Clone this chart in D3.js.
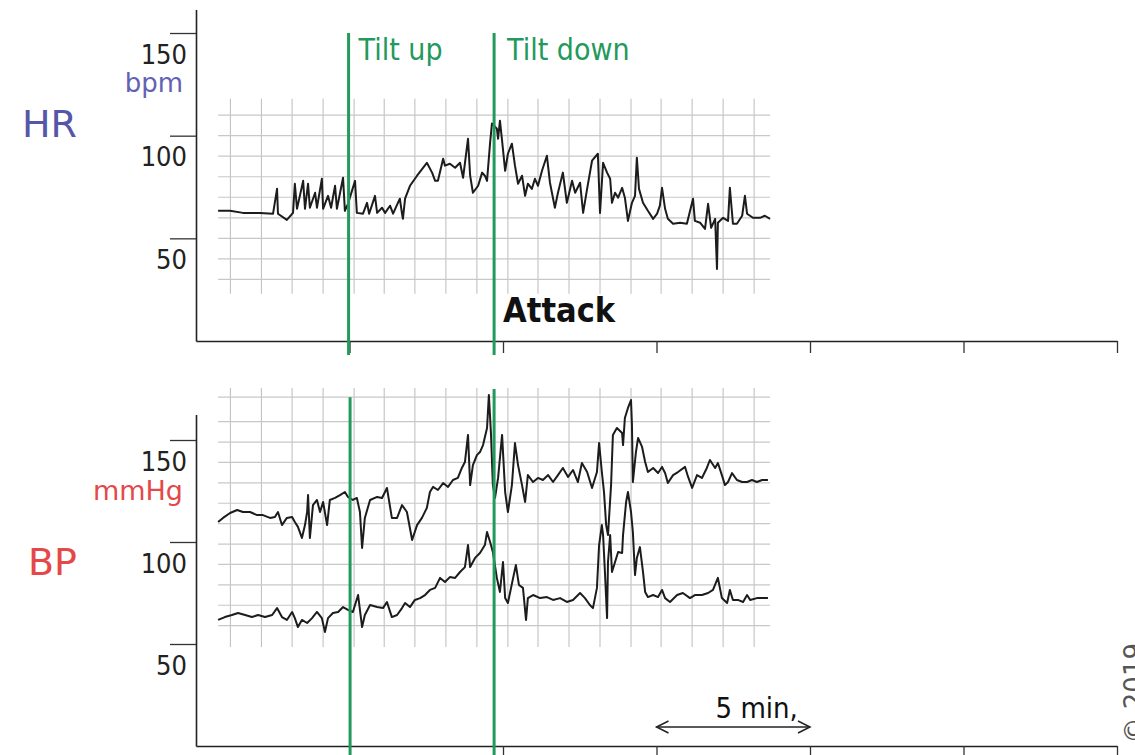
<!DOCTYPE html>
<html>
<head>
<meta charset="utf-8">
<script src="https://cdn.jsdelivr.net/npm/d3@7"></script>
<style>
  html, body { margin: 0; padding: 0; background: #fff; overflow: hidden; }
  svg { display: block; }
  .cond { font-family: "DejaVu Sans Condensed", "DejaVu Sans", sans-serif; font-stretch: condensed; }
  .sans { font-family: "DejaVu Sans", sans-serif; }
</style>
</head>
<body>
<svg id="chart" width="1135" height="755"></svg>
<script>
// ---- Recording (time in minutes from start of trace) ----
const hrMinutes = [0.72,1.11,1.53,2.08,2.51,2.64,2.67,2.96,3.16,3.22,
  3.29,3.49,3.55,3.65,3.71,3.88,3.94,4.10,4.14,4.30,
  4.40,4.53,4.59,4.79,4.85,4.95,5.18,5.24,5.44,5.57,
  5.64,5.83,5.90,6.06,6.16,6.32,6.42,6.64,6.71,6.74,
  6.81,6.97,7.20,7.52,7.69,7.79,7.88,8.05,8.11,8.27,
  8.44,8.60,8.70,8.86,8.93,9.02,9.19,9.32,9.41,9.48,
  9.58,9.64,9.80,9.84,9.90,9.97,10.07,10.16,10.29,10.39,
  10.49,10.62,10.72,10.81,10.94,11.04,11.14,11.27,11.43,11.53,
  11.69,11.79,11.95,12.08,12.25,12.35,12.51,12.61,12.74,12.90,
  13.09,13.16,13.26,13.39,13.49,13.55,13.65,13.75,13.88,13.97,
  14.07,14.20,14.30,14.36,14.43,14.56,14.72,14.89,15.02,15.11,
  15.18,15.28,15.37,15.54,15.77,15.99,16.19,16.25,16.42,16.58,
  16.68,16.78,16.91,16.97,17.00,17.17,17.33,17.39,17.49,17.62,
  17.79,17.88,17.95,18.14,18.37,18.53,18.70];
const hrBpm = [63.4,63.4,62.4,62.4,62.0,74.1,62.0,59.0,62.4,76.6,
  64.4,78.0,64.4,76.6,64.9,72.2,64.9,79.0,64.4,70.7,
  64.9,75.6,64.4,79.5,63.4,66.8,78.0,62.4,62.0,67.3,
  62.0,70.7,62.4,64.9,62.4,65.9,62.0,69.3,62.0,59.5,
  69.3,75.6,80.5,86.8,82.0,78.0,78.0,88.8,85.4,86.3,
  84.4,86.8,79.5,98.5,80.5,72.2,75.6,82.0,80.5,78.0,
  96.6,105.9,103.4,98.5,107.3,97.6,82.9,91.2,96.1,85.4,
  76.6,80.5,70.7,76.6,74.1,79.0,75.6,82.9,90.2,77.1,
  64.9,72.2,82.0,67.3,78.0,72.2,77.1,62.4,74.1,87.8,
  91.2,62.4,86.8,82.0,79.0,67.3,72.2,69.8,74.6,69.8,
  58.5,67.3,70.7,89.3,74.1,67.3,63.4,59.5,62.0,65.9,
  74.6,64.4,59.5,57.1,57.6,57.1,69.3,58.5,57.6,54.6,
  66.8,55.1,59.5,35.1,57.6,60.0,58.5,74.6,57.1,57.1,
  61.0,70.7,62.0,60.0,60.0,61.0,59.5];

const sysMinutes = [0.72,0.88,1.11,1.34,1.53,1.76,1.99,2.18,2.41,2.57,
  2.67,2.80,2.96,3.13,3.22,3.32,3.45,3.55,3.62,3.65,
  3.71,3.81,3.94,4.04,4.14,4.27,4.36,4.53,4.69,4.85,
  4.95,5.11,5.24,5.34,5.41,5.50,5.67,5.90,6.06,6.22,
  6.38,6.55,6.71,6.87,7.04,7.20,7.36,7.52,7.62,7.72,
  7.88,8.05,8.21,8.37,8.53,8.66,8.76,8.86,8.93,9.02,
  9.15,9.25,9.35,9.48,9.54,9.61,9.67,9.74,9.84,9.97,
  10.07,10.16,10.29,10.39,10.49,10.62,10.72,10.81,10.98,11.14,
  11.30,11.47,11.63,11.79,11.95,12.12,12.28,12.44,12.57,12.74,
  12.90,13.06,13.13,13.22,13.29,13.36,13.42,13.52,13.58,13.71,
  13.88,13.91,13.97,14.07,14.17,14.20,14.23,14.33,14.40,14.53,
  14.63,14.72,14.89,15.05,15.18,15.28,15.37,15.54,15.70,15.93,
  16.03,16.16,16.32,16.48,16.64,16.74,16.91,17.00,17.13,17.23,
  17.33,17.46,17.62,17.79,17.95,18.11,18.27,18.44,18.63];
const sysMmHg = [109.8,111.8,114.2,115.7,114.7,114.7,113.2,113.2,111.8,112.3,
  114.7,108.3,111.8,112.3,109.8,107.4,102.0,108.3,114.7,123.0,
  102.0,118.1,120.6,114.7,119.6,108.3,120.6,121.6,123.0,124.5,
  122.1,120.6,121.6,114.7,97.1,111.8,120.6,122.1,121.6,126.5,
  111.8,111.8,118.1,114.7,101.0,108.3,111.8,116.7,124.5,127.0,
  125.5,128.9,127.0,130.4,131.4,136.3,139.2,152.5,127.9,137.7,
  142.6,144.1,147.5,155.9,172.1,152.5,127.9,121.6,131.4,152.5,
  124.5,114.7,127.9,148.5,137.7,127.9,119.6,132.8,129.4,131.4,
  130.4,132.8,129.4,132.8,136.3,131.9,135.3,129.4,138.7,134.3,
  126.5,134.3,148.5,134.3,124.5,108.3,103.4,127.9,152.5,155.9,
  153.4,147.5,160.8,165.7,169.6,157.4,129.4,144.1,151.0,146.6,
  139.2,134.3,136.3,133.8,136.8,133.8,128.9,132.8,134.3,136.8,
  131.9,126.5,132.8,131.4,136.3,140.2,136.3,138.7,132.8,127.9,
  129.4,133.8,130.4,129.4,129.4,130.4,129.4,130.4,130.4];

const diaMinutes = [0.72,0.94,1.17,1.37,1.60,1.82,2.02,2.25,2.48,2.64,
  2.80,2.96,3.13,3.22,3.32,3.45,3.62,3.78,3.94,4.10,
  4.20,4.30,4.46,4.63,4.79,4.95,5.11,5.28,5.41,5.50,
  5.67,5.90,6.09,6.22,6.38,6.55,6.71,6.81,6.97,7.13,
  7.30,7.46,7.62,7.79,7.95,8.11,8.27,8.44,8.60,8.76,
  8.86,8.93,9.09,9.25,9.41,9.48,9.58,9.67,9.80,9.90,
  10.00,10.07,10.16,10.33,10.42,10.52,10.65,10.75,10.81,10.98,
  11.21,11.43,11.63,11.86,12.08,12.28,12.51,12.67,12.83,12.93,
  13.06,13.13,13.22,13.26,13.32,13.39,13.42,13.49,13.55,13.65,
  13.75,13.88,13.91,14.01,14.07,14.17,14.23,14.30,14.36,14.46,
  14.56,14.63,14.72,14.89,15.05,15.18,15.28,15.44,15.67,15.86,
  16.09,16.25,16.48,16.68,16.84,17.00,17.13,17.30,17.39,17.49,
  17.65,17.82,17.95,18.05,18.27,18.47,18.63];
const diaMmHg = [61.8,63.2,64.2,65.2,64.2,63.2,64.2,63.2,64.2,67.6,
  63.2,61.8,65.7,62.7,58.3,61.8,60.3,62.7,65.7,62.7,
  55.9,62.7,65.2,65.7,68.1,66.7,65.7,74.0,58.3,64.2,
  69.1,68.1,67.6,70.6,63.2,64.2,67.6,70.1,68.1,71.6,
  72.5,74.0,76.5,77.5,82.4,80.4,82.8,82.4,85.3,87.7,
  98.5,87.7,92.2,94.6,98.5,104.9,100.0,95.1,82.4,75.5,
  90.2,72.5,70.1,82.4,88.7,78.9,77.5,61.8,72.5,74.0,
  72.5,73.0,71.6,72.5,70.6,71.6,75.0,72.5,69.1,67.6,
  77.5,98.5,108.3,103.4,85.3,62.7,90.2,103.4,85.3,90.2,
  95.1,94.6,103.4,119.6,124.5,114.7,104.9,83.8,92.2,97.5,
  85.3,75.5,73.0,74.0,73.0,76.5,72.5,70.6,74.0,75.0,
  72.5,74.0,74.0,75.0,76.5,82.4,72.5,70.1,76.5,71.6,
  71.6,70.6,74.0,71.6,72.5,72.5,72.5];

// ---- Axes, events and chart-paper grid ----
const minuteTicks = [5, 10, 15, 20, 25, 30];
const hrTicks = [50, 100, 150];
const bpTicks = [50, 100, 150];
const eventMinutes = [4.97, 9.71];
const eventLabels = ["Tilt up", "Tilt down"];
const attackLabel = "Attack";
const scaleBarMinutes = [15, 20];
const scaleBarLabel = "5 min,";
const paperMinutes = [1.12,2.13,3.13,4.14,5.15,6.13,7.13,8.14,9.15,10.16,11.14,12.15,13.16,14.17,15.15,16.16,17.17,18.18];
const paperSpan = [0.72, 18.7];
const hrPaperBpm = [110, 100, 90, 80, 70, 60, 50, 40, 30];
const hrPaperRange = [23, 118];
const bpPaperMmHg = [171, 159, 149, 139, 129, 119, 109, 99, 89, 79, 69, 59];
const bpPaperRange = [48.5, 175.5];

const svg = d3.select("#chart");
const W = 1135, H = 755;

const x = d3.scaleLinear().domain([0, 30]).range([196, 1117]);
const yHR = d3.scaleLinear().domain([0, 161.5]).range([341, 9.4]);
const yBP = d3.scaleLinear().domain([0, 162.5]).range([746, 414.5]);

const green = "#23995c";
const ink = "#1c1c1c";

function paperGrid(y, rows, span) {
  const g = svg.append("g");
  g.selectAll("line.v").data(paperMinutes).join("line")
    .attr("x1", d => x(d)).attr("x2", d => x(d))
    .attr("y1", y(span[1])).attr("y2", y(span[0]))
    .attr("stroke", "#bcbcbc").attr("stroke-width", 1);
  g.selectAll("line.h").data(rows).join("line")
    .attr("x1", x(paperSpan[0])).attr("x2", x(paperSpan[1]))
    .attr("y1", d => y(d)).attr("y2", d => y(d))
    .attr("stroke", "#c8c8c8").attr("stroke-width", 1.2);
}

function trace(y, minutes, values) {
  const pts = d3.zip(minutes, values);
  svg.append("path").datum(pts)
    .attr("fill", "none").attr("stroke", ink).attr("stroke-width", 2)
    .attr("stroke-linejoin", "round")
    .attr("d", d3.line().x(d => x(d[0])).y(d => y(d[1])));
}

function axes(y, ticks) {
  const left = svg.append("g").attr("transform", `translate(${x(0)},0)`)
    .call(d3.axisLeft(y).tickValues(ticks).tickSize(26).tickSizeOuter(0));
  left.select(".domain").attr("stroke", "#222").attr("stroke-width", 1.6);
  left.selectAll(".tick line").attr("stroke", "#333").attr("stroke-width", 1.3);
  left.selectAll(".tick text")
    .attr("class", "cond").attr("x", -9).attr("dy", null).attr("y", 30)
    .attr("font-size", 27).attr("fill", "#222").attr("text-anchor", "end");
  left.attr("font-family", null).attr("font-size", null);

  const bottom = svg.append("g").attr("transform", `translate(0,${y(0)})`)
    .call(d3.axisBottom(x).tickValues(minuteTicks).tickSize(12).tickSizeOuter(0).tickFormat(""));
  bottom.select(".domain").attr("stroke", "#222").attr("stroke-width", 1.6);
  bottom.selectAll(".tick line").attr("stroke", "#333").attr("stroke-width", 1.3);
}

// Heart rate panel
paperGrid(yHR, hrPaperBpm, hrPaperRange);
trace(yHR, hrMinutes, hrBpm);
axes(yHR, hrTicks);

// Blood pressure panel
paperGrid(yBP, bpPaperMmHg, bpPaperRange);
trace(yBP, sysMinutes, sysMmHg);
trace(yBP, diaMinutes, diaMmHg);
axes(yBP, bpTicks);

// Tilt event markers
eventMinutes.forEach((m, i) => {
  svg.append("line")
    .attr("x1", x(m)).attr("x2", x(m))
    .attr("y1", yHR(150)).attr("y2", yHR(0) + 14)
    .attr("stroke", green).attr("stroke-width", 3);
  svg.append("line")
    .attr("x1", x(m) + (i === 0 ? 1.5 : 0)).attr("x2", x(m) + (i === 0 ? 1.5 : 0))
    .attr("y1", yBP(i === 0 ? 171 : 175)).attr("y2", H)
    .attr("stroke", green).attr("stroke-width", 3);
  svg.append("text").attr("class", "cond")
    .attr("x", x(m) + (i === 0 ? 10 : 13)).attr("y", yHR(150) + 27)
    .attr("font-size", 30).attr("fill", green)
    .text(eventLabels[i]);
});

svg.append("text").attr("class", "cond")
  .attr("x", x(eventMinutes[1]) + 9).attr("y", yHR(0) - 19)
  .attr("font-size", 34).attr("font-weight", "bold").attr("fill", "#111")
  .text(attackLabel);

// Panel names and units
svg.append("text").attr("class", "sans").attr("x", 22).attr("y", 137)
  .attr("font-size", 38).attr("fill", "#5656a8").text("HR");
svg.append("text").attr("class", "sans").attr("x", 183).attr("y", 92)
  .attr("text-anchor", "end").attr("font-size", 26).attr("fill", "#6262b4").text("bpm");
svg.append("text").attr("class", "sans").attr("x", 28).attr("y", 575)
  .attr("font-size", 38).attr("fill", "#e44848").text("BP");
svg.append("text").attr("class", "sans").attr("x", 183).attr("y", 500)
  .attr("text-anchor", "end").attr("font-size", 27).attr("fill", "#e44848").text("mmHg");

// Time scale bar
const barY = yBP(0) - 19;
const bx0 = x(scaleBarMinutes[0]), bx1 = x(scaleBarMinutes[1]);
svg.append("line").attr("x1", bx0).attr("x2", bx1).attr("y1", barY).attr("y2", barY)
  .attr("stroke", "#222").attr("stroke-width", 1.5);
svg.append("path")
  .attr("d", `M${bx0 + 12},${barY - 6}L${bx0},${barY}L${bx0 + 12},${barY + 6}M${bx1 - 12},${barY - 6}L${bx1},${barY}L${bx1 - 12},${barY + 6}`)
  .attr("fill", "none").attr("stroke", "#222").attr("stroke-width", 1.5);
svg.append("text").attr("class", "cond")
  .attr("x", bx0 + 59).attr("y", barY - 9)
  .attr("font-size", 29).attr("fill", "#111").text(scaleBarLabel);

// Copyright note along the right edge
svg.append("text").attr("class", "sans")
  .attr("transform", `translate(1143,643) rotate(-90)`)
  .attr("text-anchor", "end").attr("font-size", 26).attr("fill", "#555")
  .text("© 2019");
</script>
</body>
</html>
